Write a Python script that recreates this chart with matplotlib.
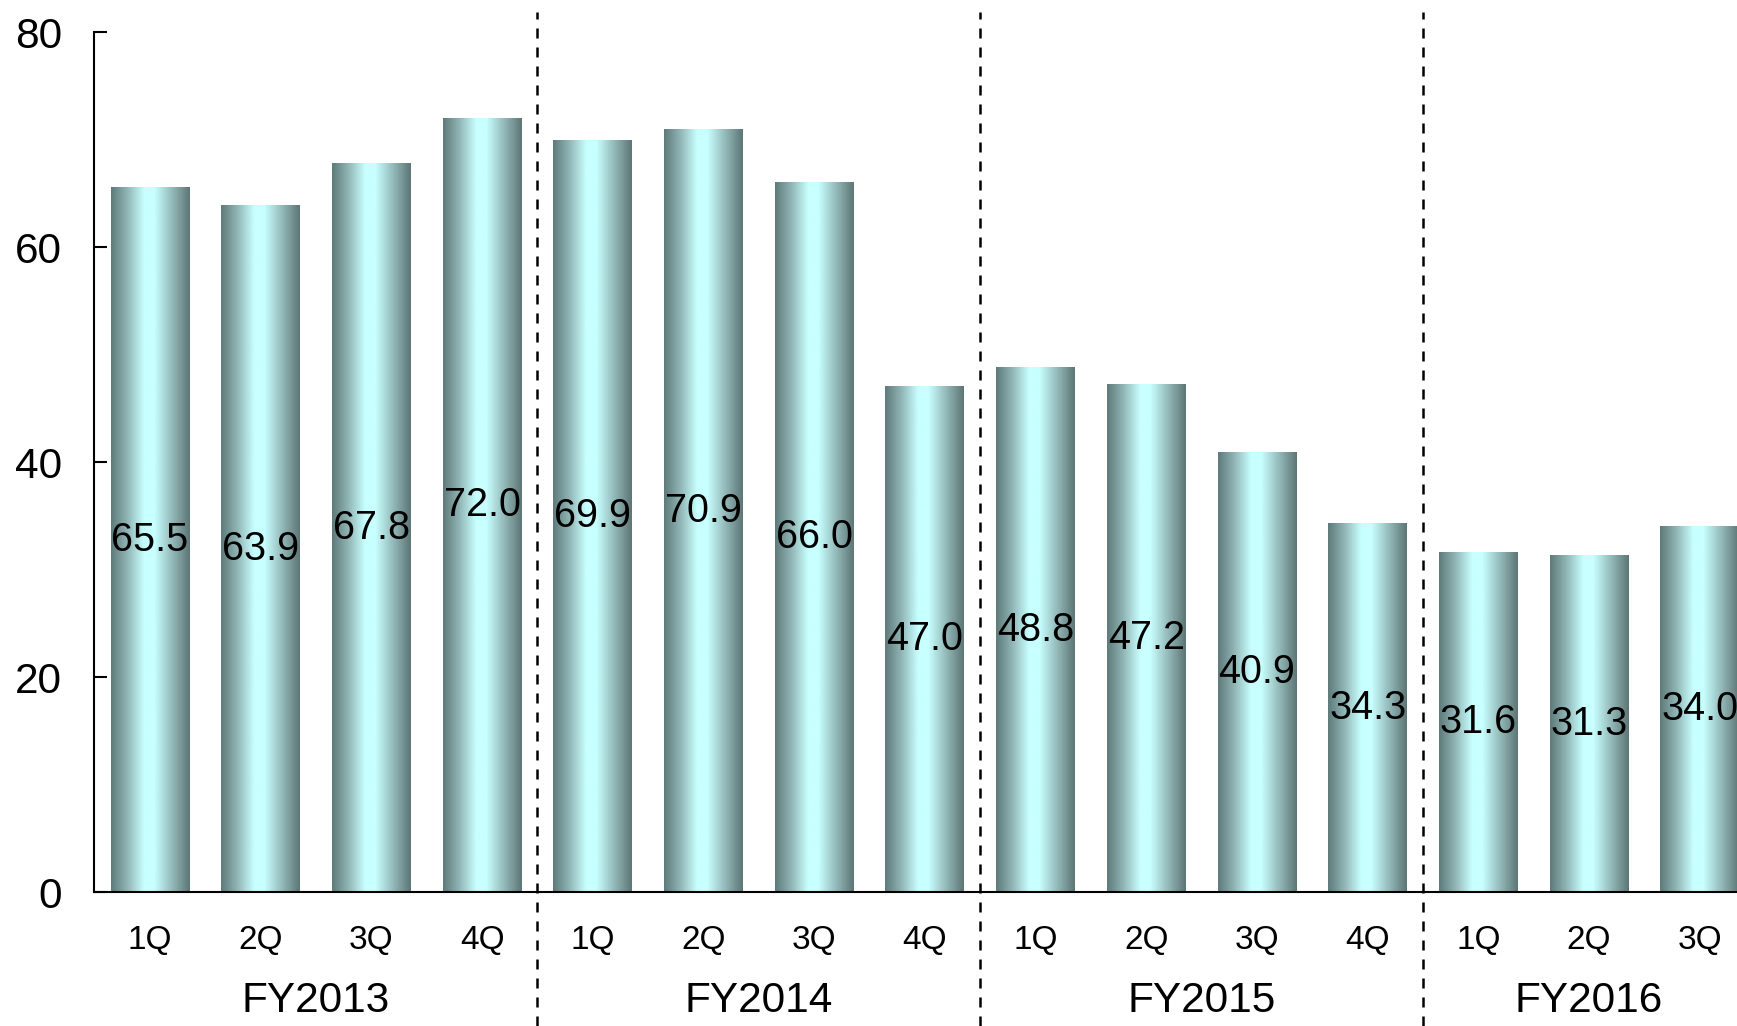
import numpy as np
import matplotlib
matplotlib.use("Agg")
import matplotlib.pyplot as plt
from matplotlib.colors import LinearSegmentedColormap

plt.rcParams['font.family'] = ['Liberation Sans', 'DejaVu Sans']

# data
quarters = ['1Q', '2Q', '3Q', '4Q', '1Q', '2Q', '3Q', '4Q',
            '1Q', '2Q', '3Q', '4Q', '1Q', '2Q', '3Q']
values = [65.5, 63.9, 67.8, 72.0, 69.9, 70.9, 66.0, 47.0,
          48.8, 47.2, 40.9, 34.3, 31.6, 31.3, 34.0]
years = ['FY2013', 'FY2014', 'FY2015', 'FY2016']
year_pos = [1.5, 5.5, 9.5, 13.0]
dividers = [3.5, 7.5, 11.5]

x = np.arange(len(values))

fig = plt.figure(figsize=(17.37, 10.26), dpi=100)
ax = fig.add_axes([0.0541, 0.1306, 0.9459, 0.8382])

# cylinder-like horizontal gradient
cmap = LinearSegmentedColormap.from_list(
    'cyl', [(0.0, '#5e7a7a'), (0.20, '#8fb3b3'), (0.42, '#c8ffff'),
            (0.55, '#c8ffff'), (0.78, '#93b8b8'), (1.0, '#5d7575')])
grad = np.linspace(0, 1, 256).reshape(1, -1)

bars = ax.bar(x, values, width=0.713, color='none', edgecolor='none')
for b in bars:
    x0, y0 = b.get_x(), b.get_y()
    ax.imshow(grad, cmap=cmap, aspect='auto', interpolation='bilinear',
              extent=[x0, x0 + b.get_width(), y0, y0 + b.get_height()],
              zorder=2)

for xi, v in zip(x, values):
    ax.text(xi, v / 2, f'{v:.1f}', ha='center', va='center', fontsize=28.5,
            color='black', zorder=3)

ax.set_xlim(-0.506, 14.336)
ax.set_ylim(0, 80)
ax.set_yticks([0, 20, 40, 60, 80])
ax.tick_params(axis='y', direction='in', length=9.5, width=1.5,
               labelsize=30.5, pad=23)
ax.set_xticks(x)
ax.set_xticklabels(quarters)
ax.tick_params(axis='x', length=0, labelsize=24, pad=24)

for s in ['top', 'right']:
    ax.spines[s].set_visible(False)
ax.spines['left'].set_linewidth(1.5)
ax.spines['bottom'].set_linewidth(1.5)

for d in dividers:
    ax.axvline(d, ymin=-0.156, ymax=1.023, color='black', lw=1.8,
               linestyle=(0, (4, 3.6)), clip_on=False, zorder=4)

for yr, p in zip(years, year_pos):
    ax.text(p, -0.127, yr, transform=ax.get_xaxis_transform(),
            ha='center', va='center', fontsize=30.5)

fig.savefig('out.png', dpi=100)
